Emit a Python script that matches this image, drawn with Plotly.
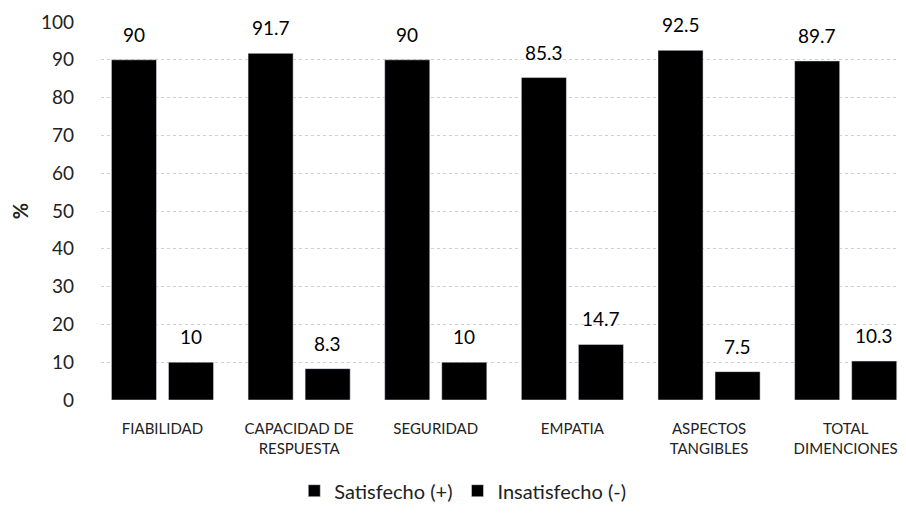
import plotly.graph_objects as go

categorias = ["FIABILIDAD", "CAPACIDAD DE<br>RESPUESTA", "SEGURIDAD", "EMPATIA",
              "ASPECTOS<br>TANGIBLES", "TOTAL<br>DIMENCIONES"]
satisfecho = [90, 91.7, 90, 85.3, 92.5, 89.7]
insatisfecho = [10, 8.3, 10, 14.7, 7.5, 10.3]
y_ticks = list(range(0, 101, 10))

fuente = "Lato, Carlito, Calibri, sans-serif"

fig = go.Figure()
fig.add_trace(go.Bar(x=categorias, y=satisfecho, name="Satisfecho (+)",
                     marker=dict(color="#000000")))
fig.add_trace(go.Bar(x=categorias, y=insatisfecho, name="Insatisfecho (-)",
                     marker=dict(color="#000000")))

# etiquetas de valor (un poco separadas de la barra)
for serie, desplaz in ((satisfecho, -28.5), (insatisfecho, 28.5)):
    for cat, v in zip(categorias, serie):
        fig.add_annotation(x=cat, y=v, text=f"{v:g}", showarrow=False,
                           xshift=desplaz, yshift=12, yanchor="bottom",
                           font=dict(size=19, color="#000000", family=fuente))

fig.update_layout(
    width=906, height=513,
    barmode="group", bargap=0.165, bargroupgap=0.21,
    plot_bgcolor="white", paper_bgcolor="white",
    margin=dict(l=93, r=0, t=14, b=121),
    font=dict(family=fuente, size=15, color="#222222"),
    legend=dict(orientation="h", x=0.445, xanchor="center", y=-0.24, yanchor="middle",
                font=dict(size=20), itemwidth=30, traceorder="normal"),
    xaxis=dict(showline=False, ticks="", tickfont=dict(size=15),
               range=[-0.45, 5.5], ticklabelstandoff=18),
    yaxis=dict(
        range=[0, 100], tickvals=y_ticks, showline=False,
        showgrid=True, gridcolor="#d0d0d0", griddash="dot", gridwidth=1,
        zeroline=False, tickfont=dict(size=19), ticklabelstandoff=26,
        title=dict(text="<b>%</b>", font=dict(size=20), standoff=8),
    ),
)

fig.write_html("out.html")
